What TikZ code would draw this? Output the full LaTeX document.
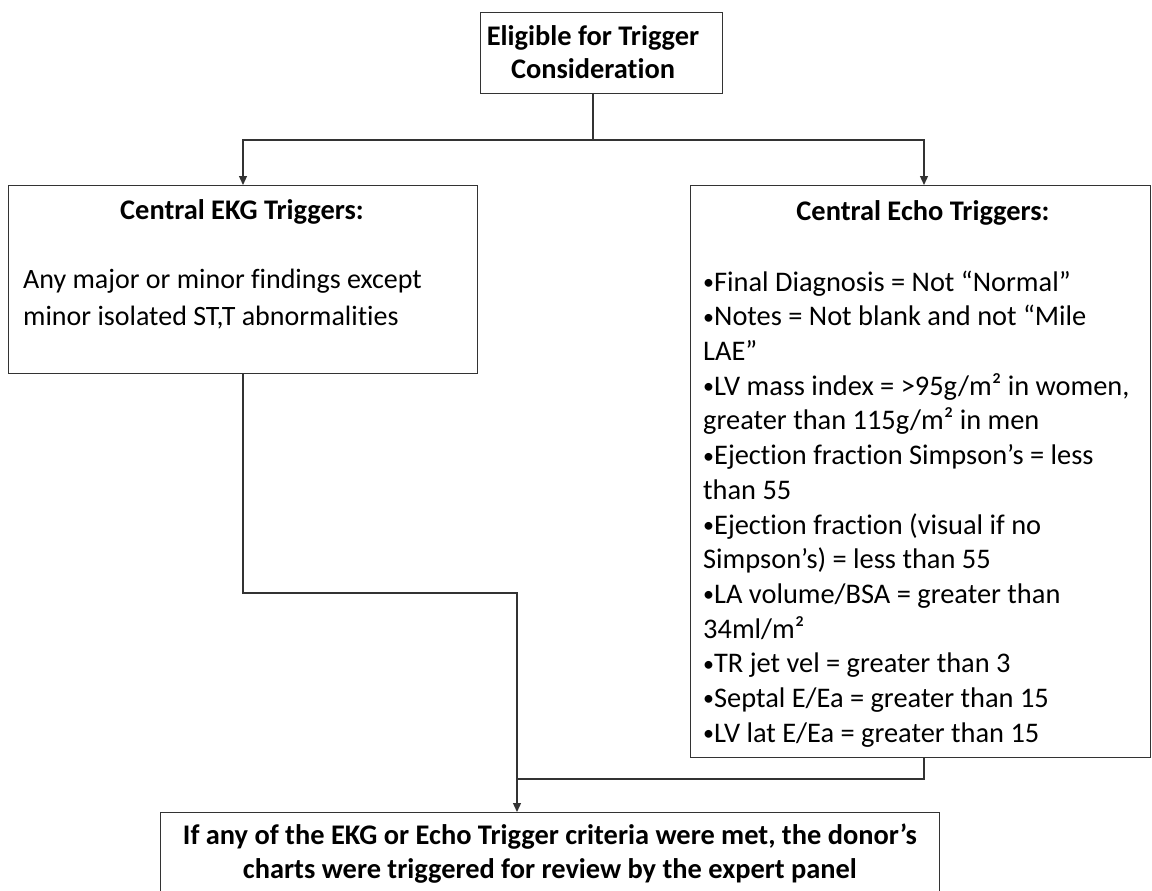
\documentclass[tikz,border=0pt]{standalone}
\usepackage{fontspec}
\setmainfont{Carlito}[Ligatures=NoCommon]
\usetikzlibrary{arrows.meta}
\newcommand{\bul}{\raisebox{1.6pt}{\fontsize{22}{0}\selectfont •}}
\begin{document}
\begin{tikzpicture}[x=1pt,y=-1pt,
  box/.style={draw=black!80,line width=1.3pt,inner sep=0pt,anchor=north west},
  conn/.style={draw=black!80,line width=1.3pt},
  arr/.style={conn,-{Triangle[width=8pt,length=9pt]}},
  head/.style={inner sep=0pt,anchor=base,font=\fontsize{28.4}{33}\selectfont\bfseries},
  body/.style={inner sep=0pt,anchor=north west,align=left,font=\fontsize{28.4}{34.7}\selectfont}]
\clip (0,0) rectangle (1152,891);
\fill[white] (0,0) rectangle (1152,891);
% boxes
\node[box,minimum width=242pt,minimum height=81pt] (top) at (480,12) {};
\node[box,minimum width=469pt,minimum height=188pt] (ekg) at (8,185) {};
\node[box,minimum width=460pt,minimum height=572pt] (echo) at (690,185) {};
\node[box,minimum width=779pt,minimum height=120pt] (res) at (160,812) {};
% texts
\node[head] (t1) at (593,46) {Eligible for Trigger};
\node[head] (t2) at (593,79) {Consideration};
\node[head] (h1) at (242,219) {Central EKG Triggers:};
\node[head] (h2) at (923,220) {Central Echo Triggers:};
\node[body,font=\fontsize{28}{37}\selectfont] (b1) at (23,262.1) {\strut Any major or minor findings except\\minor isolated ST,T abnormalities};
\node[body] (b2) at (703,266.7) {\strut \bul Final Diagnosis = Not “Normal”\\
\bul Notes = Not blank and not “Mile\\
LAE”\\
\bul LV mass index = >95g/m² in women,\\
greater than 115g/m² in men\\
\bul Ejection fraction Simpson’s = less\\
than 55\\
\bul Ejection fraction (visual if no\\
Simpson’s) = less than 55\\
\bul LA volume/BSA = greater than\\
34ml/m²\\
\bul TR jet vel = greater than 3\\
\bul Septal E/Ea = greater than 15\\
\bul LV lat E/Ea = greater than 15};
\node[head] (r1) at (550,844) {If any of the EKG or Echo Trigger criteria were met, the donor’s};
\node[head] (r2) at (550,878) {charts were triggered for review by the expert panel};
% connectors
\coordinate (topout) at (593,93);
\coordinate (split) at (593,140);
\coordinate (ekgin) at (243,185);
\coordinate (echoin) at (924,185);
\coordinate (ekgout) at (243,373);
\coordinate (echoout) at (924,757);
\coordinate (resin) at (517,812);
\draw[conn] (topout) -- (split);
\draw[arr] (split) -| (ekgin);
\draw[arr] (split) -| (echoin);
\draw[arr] (ekgout) -- (243,593) -| (resin);
\draw[conn] (echoout) -- (924,779) -- (517,779);
\end{tikzpicture}
\end{document}
